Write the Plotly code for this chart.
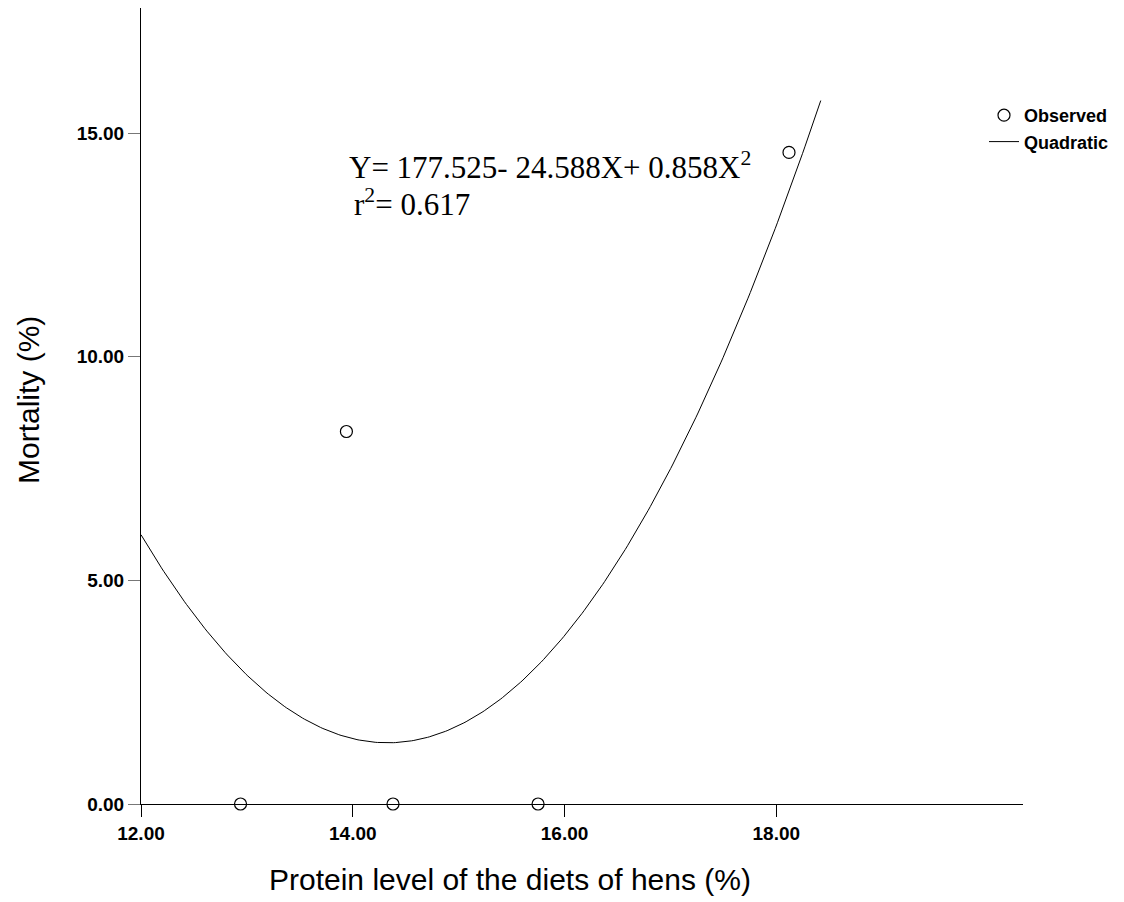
import numpy as np
import plotly.graph_objects as go

# Observed mortality by dietary protein level
protein = [12.94, 13.94, 14.38, 15.75, 18.12]
mortality = [0.0, 8.33, 0.0, 0.0, 14.57]

# Quadratic fit coefficients: Y = b0 + b1*X + b2*X^2
b0, b1, b2 = 177.525, -24.588, 0.858
fit_x = np.linspace(12.0, 18.42, 300)
fit_y = b0 + b1 * fit_x + b2 * fit_x ** 2

x_ticks = [12, 14, 16, 18]
x_tick_text = ["12.00", "14.00", "16.00", "18.00"]
y_ticks = [0, 5, 10, 15]
y_tick_text = ["0.00", "5.00", "10.00", "15.00"]

# plot area in pixels
L, R, T, B = 141, 101, 8, 98
W, H = 1124, 902
PW, PH = W - L - R, H - T - B


def px(x):
    return (x - L) / PW


def py(y):
    return (H - B - y) / PH


sans = "Liberation Sans, Arial"
serif = "Liberation Serif, Times New Roman"

fig = go.Figure()
fig.add_trace(go.Scatter(
    x=protein, y=mortality, mode="markers", name="Observed",
    marker=dict(symbol="circle-open", size=12, color="black", line=dict(width=1.2)),
    cliponaxis=False,
))
fig.add_trace(go.Scatter(
    x=fit_x, y=fit_y, mode="lines", name="Quadratic",
    line=dict(color="black", width=1),
))

fig.update_layout(
    width=W, height=H,
    margin=dict(l=L, r=R, t=T, b=B),
    paper_bgcolor="white", plot_bgcolor="white",
    font=dict(family=sans, color="black"),
    showlegend=True,
    legend=dict(
        x=px(984), y=py(97), xanchor="left", yanchor="top",
        font=dict(family=sans, size=18, color="black", weight="bold"),
        bgcolor="rgba(0,0,0,0)", tracegroupgap=0, itemwidth=30,
    ),
    xaxis=dict(
        range=[12, 20.33], showgrid=False, zeroline=False,
        showline=True, linecolor="black", linewidth=1,
        ticks="outside", ticklen=12, tickcolor="black",
        tickvals=x_ticks, ticktext=x_tick_text,
        tickfont=dict(family=sans, size=19, color="black", weight="bold"),
    ),
    yaxis=dict(
        range=[0, 17.8], showgrid=False, zeroline=False,
        showline=True, linecolor="black", linewidth=1,
        ticks="outside", ticklen=12, tickcolor="#777",
        tickvals=y_ticks, ticktext=y_tick_text,
        tickfont=dict(family=sans, size=19, color="black", weight="bold"),
    ),
    annotations=[
        dict(text="Protein level of the diets of hens (%)", xref="paper", yref="paper",
             x=px(510), y=py(861), xanchor="center", yanchor="top",
             showarrow=False, font=dict(family=sans, size=30)),
        dict(text="Mortality (%)", xref="paper", yref="paper",
             x=px(28), y=py(400), xanchor="center", yanchor="middle",
             textangle=-90, showarrow=False, font=dict(family=sans, size=30)),
        dict(text="Y= 177.525- 24.588X+ 0.858X<sup>2</sup>", xref="paper", yref="paper",
             x=px(347), y=py(165), xanchor="left", yanchor="middle",
             showarrow=False, font=dict(family=serif, size=31)),
        dict(text="r<sup>2</sup>= 0.617", xref="paper", yref="paper",
             x=px(352), y=py(203), xanchor="left", yanchor="middle",
             showarrow=False, font=dict(family=serif, size=31)),
    ],
)

fig.write_html("out.html")
